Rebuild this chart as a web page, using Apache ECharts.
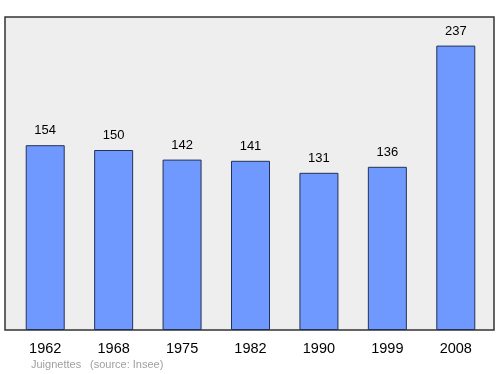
<!DOCTYPE html>
<html><head><meta charset="utf-8">
<script src="https://cdn.jsdelivr.net/npm/echarts@6/dist/echarts.min.js"></script>
<style>html,body{margin:0;padding:0;background:#fff}#c{width:500px;height:374px}</style>
</head><body><div id="c"></div>
<script>
var years = ['1962','1968','1975','1982','1990','1999','2008'];
var population = [154,150,142,141,131,136,237];
var footerName = 'Juignettes';
var footerSource = '(source: Insee)';

var chart = echarts.init(document.getElementById('c'), null, {renderer:'canvas'});
chart.setOption({
  animation:false,
  backgroundColor:'#ffffff',
  graphic:[
    {type:'rect', z:-10, shape:{x:5, y:17, width:489, height:313}, style:{fill:'#eeeeee', stroke:'#333333', lineWidth:1.5}},
    {type:'text', left:31, top:359, style:{text:footerName, fill:'#a0a0a0', font:'11px "Liberation Sans", Arial, sans-serif'}},
    {type:'text', left:90, top:359, style:{text:footerSource, fill:'#a0a0a0', font:'11px "Liberation Sans", Arial, sans-serif'}}
  ],
  grid:{left:11, right:10, top:30, bottom:44},
  xAxis:{type:'category', data:years,
    axisLine:{show:false}, axisTick:{show:false},
    axisLabel:{color:'#000', fontSize:14.5, margin:11, fontFamily:'Liberation Sans'}},
  yAxis:{type:'value', min:0, max:250, show:false, splitLine:{show:false}},
  series:[{type:'bar', data:population, barWidth:39,
    itemStyle:{color:'#7099ff', borderColor:'#223355', borderWidth:1},
    label:{show:true, position:'top', distance:8, color:'#000', fontSize:13, fontFamily:'Liberation Sans'}}]
});
</script></body></html>
